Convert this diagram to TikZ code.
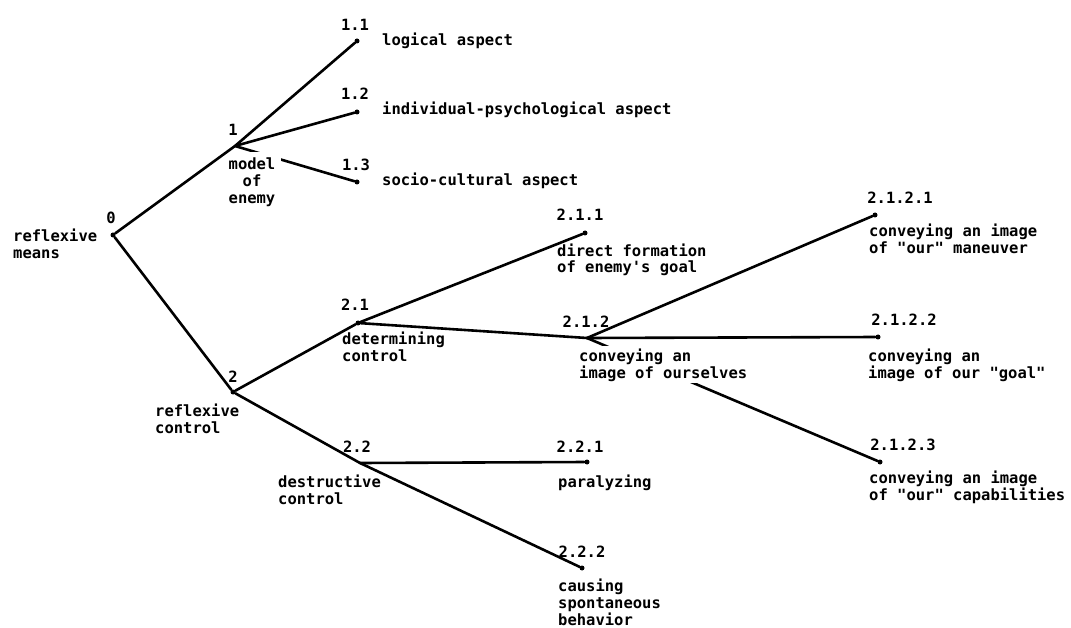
\documentclass[tikz,border=0pt]{standalone}
\usepackage{fontspec}
\setmonofont{DejaVu Sans Mono}
\begin{document}
\begin{tikzpicture}[x=1pt,y=-1pt,
  pt/.style={circle,fill=black,inner sep=0pt,minimum size=5pt},
  num/.style={font=\ttfamily\bfseries\fontsize{15.5}{17}\selectfont,inner sep=0pt,anchor=center},
  txt/.style={font=\ttfamily\bfseries\fontsize{15.5}{17}\selectfont,inner sep=0pt,align=left,anchor=base west},
  ctxt/.style={font=\ttfamily\bfseries\fontsize{15.5}{17}\selectfont,inner sep=0pt,align=center,anchor=base},
  link/.style={line width=2.6pt,line cap=round}]
\useasboundingbox[fill=white] (0,0) rectangle (1071,628);
% points
\node[pt] (n0) at (113,235) {};
\coordinate (n1) at (235,146);
\node[pt] (n11) at (357,41) {};
\node[pt] (n12) at (357,112) {};
\node[pt] (n13) at (357,182) {};
\node[pt] (n2) at (233,392) {};
\node[pt] (n21) at (358,323) {};
\node[pt] (n211) at (585,233) {};
\coordinate (n212) at (587,338);
\node[pt] (n2121) at (875,215) {};
\node[pt] (n2122) at (878,337) {};
\node[pt] (n2123) at (880,462) {};
\coordinate (n22) at (360,463);
\node[pt] (n221) at (587,462) {};
\node[pt] (n222) at (582,568) {};
% connectors partly hidden by labels
\draw[link] (n1) -- (n13);
\draw[link] (n212) -- (n2123);
% number labels
\node[num] (l0) at (111,218) {0};
\node[num] (l1) at (233,130) {1};
\node[num] (l11) at (355,25) {1.1};
\node[num] (l12) at (355,94) {1.2};
\node[num] (l13) at (356,165) {1.3};
\node[num] (l2) at (233,377) {2};
\node[num] (l21) at (355,305) {2.1};
\node[num] (l211) at (580,215) {2.1.1};
\node[num] (l212) at (586,322) {2.1.2};
\node[num] (l2121) at (900,198) {2.1.2.1};
\node[num] (l2122) at (904,320) {2.1.2.2};
\node[num] (l2123) at (903,445) {2.1.2.3};
\node[num] (l22) at (357,447) {2.2};
\node[num] (l221) at (580,447) {2.2.1};
\node[num] (l222) at (582,552) {2.2.2};
% text labels (base = baseline of last line)
\node[txt] (t0) at (13,259) {reflexive\\means};
\node[txt] (t11) at (382,46) {logical aspect};
\node[txt] (t12) at (382,115) {individual-psychological aspect};
\node[txt] (t13) at (382,186) {socio-cultural aspect};
\node[ctxt,fill=white,inner sep=6pt] (t1) at (252,204) {model\\of\\enemy};
\node[txt] (t2) at (155,433) {reflexive\\control};
\node[txt] (t21) at (342,361) {determining\\control};
\node[txt] (t211) at (557,273) {direct formation\\of enemy's goal};
\node[txt,fill=white,inner sep=2pt] (t212) at (577,378) {conveying an\\image of ourselves};
\node[txt] (t2121) at (869,254) {conveying an image\\of "our" maneuver};
\node[txt] (t2122) at (868,378) {conveying an\\image of our "goal"};
\node[txt] (t2123) at (869,500) {conveying an image\\of "our" capabilities};
\node[txt] (t22) at (278,504) {destructive\\control};
\node[txt] (t221) at (558,487) {paralyzing};
\node[txt] (t222) at (558,625) {causing\\spontaneous\\behavior};
% connectors
\draw[link] (n0) -- (n1) -- (n11);
\draw[link] (n1) -- (n12);
\draw[link] (n0) -- (n2);
\draw[link] (n2) -- (n21) -- (n211);
\draw[link] (n21) -- (n212);
\draw[link] (n212) -- (n2121);
\draw[link] (n212) -- (n2122);
\draw[link] (n2) -- (n22) -- (n222);
\draw[link] (n22) -- (n221);
\end{tikzpicture}
\end{document}
